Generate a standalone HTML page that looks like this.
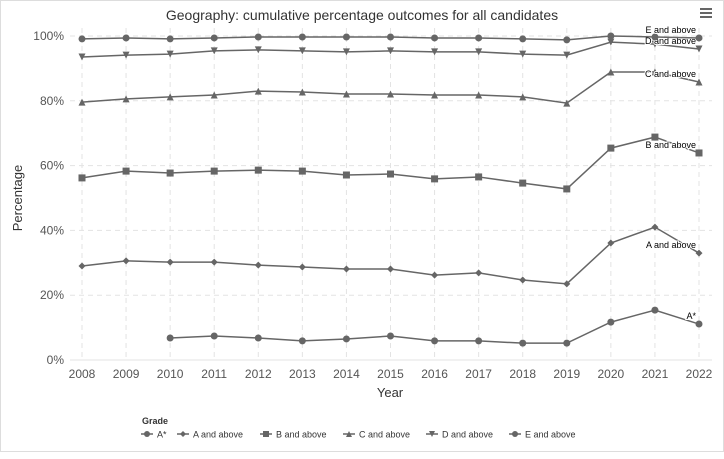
<!DOCTYPE html>
<html><head><meta charset="utf-8"><style>
body{margin:0;background:#fff;font-family:"Liberation Sans",sans-serif}
svg text{font-family:"Liberation Sans",sans-serif}
</style></head><body>
<svg id="chart" width="724" height="454">
<rect x="0.5" y="0.5" width="723" height="451" fill="#fff" stroke="#ddd"/>
<text x="362" y="20" text-anchor="middle" font-size="14" fill="#333">Geography: cumulative percentage outcomes for all candidates</text>
<g><rect x="700" y="8" width="12" height="2" fill="#666"/><rect x="700" y="12" width="12" height="2" fill="#666"/><rect x="700" y="16" width="12" height="2" fill="#666"/></g>
<g id="grid"></g><g id="axes"></g><g id="series"></g><g id="legend"></g>
<text x="22" y="198" transform="rotate(-90 22 198)" text-anchor="middle" font-size="13" fill="#333">Percentage</text>
<text x="390" y="397" text-anchor="middle" font-size="13" fill="#333">Year</text>
</svg>
<script>
const years=[2008,2009,2010,2011,2012,2013,2014,2015,2016,2017,2018,2019,2020,2021,2022];
const yTicks=[0,20,40,60,80,100];
const seriesNames=["A*","A and above","B and above","C and above","D and above","E and above"];
const aStar=[null,null,6.8,7.4,6.8,5.9,6.5,7.4,5.9,5.9,5.2,5.2,11.7,15.4,11.1];
const aAbove=[29.0,30.6,30.2,30.2,29.3,28.7,28.1,28.1,26.2,26.9,24.7,23.5,36.1,41.0,33.0];
const bAbove=[56.2,58.3,57.7,58.3,58.6,58.3,57.1,57.4,55.9,56.5,54.6,52.8,65.4,68.8,63.9];
const cAbove=[79.6,80.6,81.2,81.8,83.0,82.7,82.1,82.1,81.8,81.8,81.2,79.3,88.9,88.9,85.8];
const dAbove=[93.5,94.1,94.4,95.4,95.7,95.4,95.1,95.4,95.1,95.1,94.4,94.1,98.1,97.5,96.0];
const eAbove=[99.1,99.4,99.1,99.4,99.7,99.7,99.7,99.7,99.4,99.4,99.1,98.8,100,99.7,99.4];
const allSeries=[aStar,aAbove,bAbove,cAbove,dAbove,eAbove];
const markers=["circle","diamond","square","triangle","triangle-down","circle"];
const NS="http://www.w3.org/2000/svg";
const x=i=>82+i*(699-82)/(years.length-1);
const y=v=>360-v*3.24;
function mk(t,a,p){const e=document.createElementNS(NS,t);for(const k in a)e.setAttribute(k,a[k]);p.appendChild(e);return e;}
const grid=document.getElementById('grid'),axes=document.getElementById('axes'),ser=document.getElementById('series'),leg=document.getElementById('legend');
yTicks.forEach(t=>{
 const l=mk('line',{x1:70,x2:712,y1:y(t),y2:y(t),stroke:'#e3e3e3','stroke-dasharray':t===0?'':'5,4'},grid);
 
 
 const tx=mk('text',{x:64,y:y(t)+4,'text-anchor':'end','font-size':12,fill:'#555'},axes);tx.textContent=t+'%';
 
 
});
years.forEach((yr,i)=>{
 const l=mk('line',{x1:x(i),x2:x(i),y1:28,y2:360,stroke:'#e3e3e3','stroke-dasharray':'5,4'},grid);
 
 
 const tx=mk('text',{x:x(i),y:378,'text-anchor':'middle','font-size':12,fill:'#555'},axes);tx.textContent=yr;
 
 
});
function marker(kind,cx,cy,p,s){
 s=s||3.5;let e;
 if(kind==='circle')e=mk('circle',{cx,cy,r:s,fill:'#666'},p);
 else if(kind==='square')e=mk('rect',{x:cx-s,y:cy-s,width:2*s,height:2*s,fill:'#666'},p);
 else if(kind==='diamond')e=mk('polygon',{points:`${cx},${cy-s} ${cx+s},${cy} ${cx},${cy+s} ${cx-s},${cy}`,fill:'#666'},p);
 else if(kind==='triangle')e=mk('polygon',{points:`${cx},${cy-s} ${cx+s},${cy+s} ${cx-s},${cy+s}`,fill:'#666'},p);
 else e=mk('polygon',{points:`${cx-s},${cy-s} ${cx+s},${cy-s} ${cx},${cy+s}`,fill:'#666'},p);
 return e;
}
allSeries.forEach((vals,si)=>{
 const g=mk('g',{},ser);
 
 
 let d='';vals.forEach((v,i)=>{if(v==null)return;d+=(d?'L':'M')+x(i)+','+y(v);});
 mk('path',{d,fill:'none',stroke:'#666','stroke-width':1.5},g);
 vals.forEach((v,i)=>{if(v==null)return;const m=marker(markers[si],x(i),y(v),g);
  
  });
 const last=vals.length-1;
 const lb=mk('text',{x:x(last)-3,y:y(vals[last])-5,'text-anchor':'end','font-size':9,fill:'#000',stroke:'#fff','stroke-width':2,'paint-order':'stroke'},g);
 lb.textContent=seriesNames[si];
 
 
});
const gt=mk('text',{x:142,y:424,'font-size':9,'font-weight':'bold',fill:'#333'},leg);gt.textContent='Grade';


const lx=[141,177,260,343,426,509];
seriesNames.forEach((n,i)=>{
 const g=mk('g',{},leg);
 
 
 mk('line',{x1:lx[i],x2:lx[i]+12,y1:434,y2:434,stroke:'#666','stroke-width':1.5},g);
 marker(markers[i],lx[i]+6,434,g,3);
 const t=mk('text',{x:lx[i]+16,y:437.5,'font-size':9,fill:'#333'},g);t.textContent=n;
});
</script>
</body></html>
